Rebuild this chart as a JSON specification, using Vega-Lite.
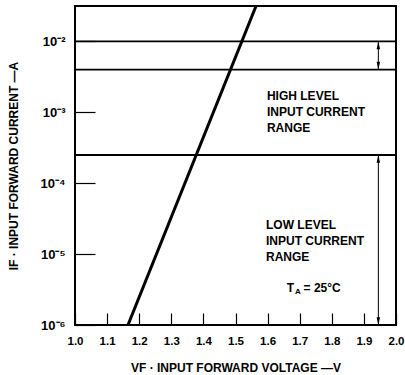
{
  "$schema": "https://vega.github.io/schema/vega-lite/v6.json",
  "width": 321,
  "height": 319,
  "autosize": {"type": "none"},
  "padding": {"left": 75, "top": 6, "right": 9, "bottom": 50},
  "background": "white",
  "config": {
    "view": {"stroke": "black", "strokeWidth": 2},
    "font": "Liberation Sans",
    "axis": {
      "domain": false,
      "grid": false,
      "labelFont": "Liberation Sans",
      "labelFontWeight": "bold",
      "labelFontSize": 12,
      "labelColor": "black",
      "titleFont": "Liberation Sans",
      "titleFontWeight": "bold",
      "titleFontSize": 12,
      "titleColor": "black",
      "tickColor": "black",
      "tickWidth": 1.2
    }
  },
  "datasets": {
    "curve": [{"v": 1.165, "i": 1e-6}, {"v": 1.564, "i": 0.0316}],
    "levels": [{"i": 0.01}, {"i": 0.004}, {"i": 0.00025}],
    "ranges": [{"v": 1.945, "lo": 0.004, "hi": 0.01}, {"v": 1.945, "lo": 1e-6, "hi": 0.00025}],
    "labels": [
      {"v": 1.598, "i": 0.0017, "t": ["HIGH LEVEL", "INPUT CURRENT", "RANGE"]},
      {"v": 1.595, "i": 0.0000258, "t": ["LOW LEVEL", "INPUT CURRENT", "RANGE"]}
    ],
    "ta": [{"v": 1.66, "i": 0.00000333, "t": "T"}],
    "tasub": [{"v": 1.685, "i": 0.00000333, "t": "A"}],
    "tarest": [{"v": 1.712, "i": 0.00000333, "t": "= 25°C"}]
  },
  "layer": [
    {
      "data": {"name": "levels"},
      "mark": {"type": "rule", "color": "black", "strokeWidth": 1.8},
      "encoding": {
        "y": {
          "field": "i", "type": "quantitative",
          "scale": {"type": "log", "domain": [1e-6, 0.0316], "nice": false},
          "axis": {
            "values": [1e-6, 1e-5, 1e-4, 1e-3, 1e-2],
            "tickSize": -20,
            "labelPadding": 30,
            "labelFontSize": 13,
            "labelOverlap": false,
            "labelExpr": "datum.value < 2e-6 ? '10⁻⁶' : datum.value < 2e-5 ? '10⁻⁵' : datum.value < 2e-4 ? '10⁻⁴' : datum.value < 2e-3 ? '10⁻³' : '10⁻²'",
            "title": "IF · INPUT FORWARD CURRENT —A",
            "titlePadding": 20
          }
        }
      }
    },
    {
      "data": {"name": "curve"},
      "mark": {"type": "line", "color": "black", "strokeWidth": 3, "clip": true},
      "encoding": {
        "x": {
          "field": "v", "type": "quantitative",
          "scale": {"domain": [1.0, 2.0], "nice": false, "zero": false},
          "axis": {
            "tickCount": 10,
            "format": ".1f",
            "tickSize": -12,
            "labelPadding": 22,
            "labelOverlap": false,
            "labelSeparation": 0,
            "labelBound": false,
            "labelFlush": false,
            "labelFontSize": 11.5,
            "title": "VF · INPUT FORWARD VOLTAGE —V",
            "titlePadding": 16
          }
        },
        "y": {"field": "i", "type": "quantitative"}
      }
    },
    {
      "data": {"name": "ranges"},
      "mark": {"type": "rule", "color": "black", "strokeWidth": 1},
      "encoding": {
        "x": {"field": "v", "type": "quantitative"},
        "y": {"field": "lo", "type": "quantitative"},
        "y2": {"field": "hi"}
      }
    },
    {
      "data": {"name": "ranges"},
      "mark": {"type": "point", "shape": "M0,-1L-0.45,1L0.45,1Z", "filled": true, "color": "black", "opacity": 1, "size": 60, "yOffset": 4},
      "encoding": {
        "x": {"field": "v", "type": "quantitative"},
        "y": {"field": "hi", "type": "quantitative"}
      }
    },
    {
      "data": {"name": "ranges"},
      "mark": {"type": "point", "shape": "M0,1L-0.45,-1L0.45,-1Z", "filled": true, "color": "black", "opacity": 1, "size": 60, "yOffset": -4},
      "encoding": {
        "x": {"field": "v", "type": "quantitative"},
        "y": {"field": "lo", "type": "quantitative"}
      }
    },
    {
      "data": {"name": "labels"},
      "mark": {"type": "text", "align": "left", "baseline": "middle", "fontWeight": "bold", "fontSize": 12, "lineHeight": 16, "color": "black"},
      "encoding": {
        "x": {"field": "v", "type": "quantitative"},
        "y": {"field": "i", "type": "quantitative"},
        "text": {"field": "t"}
      }
    },
    {
      "data": {"name": "ta"},
      "mark": {"type": "text", "align": "left", "baseline": "middle", "fontWeight": "bold", "fontSize": 12, "color": "black"},
      "encoding": {
        "x": {"field": "v", "type": "quantitative"},
        "y": {"field": "i", "type": "quantitative"},
        "text": {"field": "t"}
      }
    },
    {
      "data": {"name": "tasub"},
      "mark": {"type": "text", "align": "left", "baseline": "middle", "fontWeight": "bold", "fontSize": 8, "dy": 4, "color": "black"},
      "encoding": {
        "x": {"field": "v", "type": "quantitative"},
        "y": {"field": "i", "type": "quantitative"},
        "text": {"field": "t"}
      }
    },
    {
      "data": {"name": "tarest"},
      "mark": {"type": "text", "align": "left", "baseline": "middle", "fontWeight": "bold", "fontSize": 12, "color": "black"},
      "encoding": {
        "x": {"field": "v", "type": "quantitative"},
        "y": {"field": "i", "type": "quantitative"},
        "text": {"field": "t"}
      }
    }
  ]
}
